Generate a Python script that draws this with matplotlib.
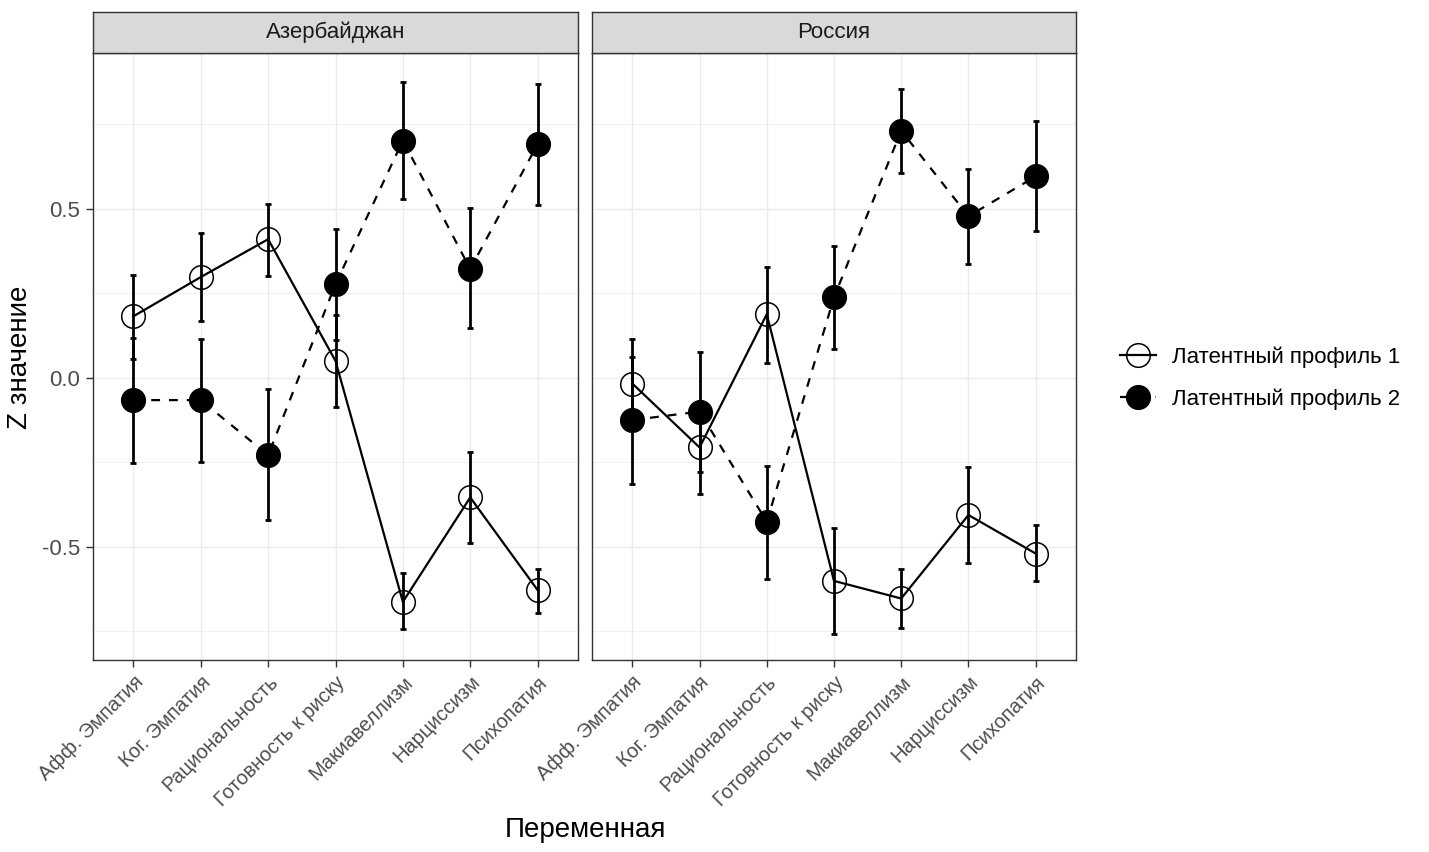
import matplotlib
matplotlib.use("Agg")
import matplotlib.pyplot as plt
from matplotlib.lines import Line2D
import numpy as np

plt.rcParams["font.family"] = ["Liberation Sans", "DejaVu Sans"]
plt.rcParams["axes.unicode_minus"] = False

variables = ["Афф. Эмпатия", "Ког. Эмпатия", "Рациональность", "Готовность к риску",
             "Макиавеллизм", "Нарциссизм", "Психопатия"]
countries = ["Азербайджан", "Россия"]
profile_labels = ["Латентный профиль 1", "Латентный профиль 2"]

# Azerbaijan
az_p1_mean = [0.182, 0.298, 0.410, 0.050, -0.663, -0.354, -0.628]
az_p1_lo = [0.057, 0.167, 0.302, -0.086, -0.744, -0.488, -0.695]
az_p1_hi = [0.303, 0.428, 0.515, 0.185, -0.579, -0.220, -0.566]
az_p2_mean = [-0.066, -0.066, -0.229, 0.277, 0.702, 0.322, 0.691]
az_p2_lo = [-0.251, -0.248, -0.421, 0.112, 0.529, 0.146, 0.511]
az_p2_hi = [0.117, 0.114, -0.033, 0.441, 0.876, 0.502, 0.870]

# Russia
ru_p1_mean = [-0.017, -0.206, 0.188, -0.601, -0.653, -0.406, -0.520]
ru_p1_lo = [-0.150, -0.344, 0.045, -0.758, -0.740, -0.549, -0.601]
ru_p1_hi = [0.116, -0.068, 0.328, -0.444, -0.566, -0.263, -0.436]
ru_p2_mean = [-0.125, -0.100, -0.426, 0.238, 0.731, 0.478, 0.596]
ru_p2_lo = [-0.315, -0.278, -0.594, 0.086, 0.606, 0.337, 0.433]
ru_p2_hi = [0.062, 0.077, -0.260, 0.389, 0.855, 0.618, 0.759]

panels = [
    [(az_p1_mean, az_p1_lo, az_p1_hi), (az_p2_mean, az_p2_lo, az_p2_hi)],
    [(ru_p1_mean, ru_p1_lo, ru_p1_hi), (ru_p2_mean, ru_p2_lo, ru_p2_hi)],
]

W, H = 1429, 852
fig = plt.figure(figsize=(W / 100, H / 100), dpi=100)


def frac_box(x0, y0, x1, y1):
    return [x0 / W, 1 - y1 / H, (x1 - x0) / W, (y1 - y0) / H]


panel_px = [(93, 53, 578, 660), (592, 53, 1076, 660)]
styles = [dict(ls="-", mfc="none"), dict(ls=(0, (4, 4)), mfc="black")]
x = np.arange(1, len(variables) + 1)
dark = "#333333"

for i, (country, data) in enumerate(zip(countries, panels)):
    x0, y0, x1, y1 = panel_px[i]
    ax = fig.add_axes(frac_box(x0, y0, x1, y1))
    ax.set_xlim(0.4, len(variables) + 0.6)
    ax.set_ylim(-0.835, 0.961)
    ax.set_yticks([-0.5, 0.0, 0.5])
    ax.set_yticks([-0.75, -0.25, 0.25, 0.75], minor=True)
    ax.set_xticks(x)
    ax.grid(which="major", color="#EBEBEB", lw=1.0, zorder=0)
    ax.grid(which="minor", axis="y", color="#EBEBEB", lw=0.5, zorder=0)
    ax.set_axisbelow(True)
    ax.tick_params(which="major", length=5, width=1.0, color=dark,
                   labelsize=16, labelcolor="#4D4D4D", pad=4)
    ax.tick_params(which="minor", length=0)
    for sp in ax.spines.values():
        sp.set_color(dark)
        sp.set_linewidth(1.0)
        sp.set_zorder(5)
    if i == 0:
        ax.set_yticklabels(["-0.5", "0.0", "0.5"])
    else:
        ax.set_yticklabels([])
        ax.tick_params(axis="y", length=0)
    ax.set_xticklabels(variables, rotation=45, ha="right", va="top",
                       rotation_mode="anchor", fontsize=14.5)

    for (mean, lo, hi), st in zip(data, styles):
        mean = np.array(mean)
        err = [mean - np.array(lo), np.array(hi) - mean]
        ax.plot(x, mean, color="black", lw=1.6, ls=st["ls"], zorder=2)
        ax.errorbar(x, mean, yerr=err, fmt="none", ecolor="black",
                    elinewidth=2.0, capsize=2.4, capthick=2.0, zorder=3)
        ax.plot(x, mean, ls="none", marker="o", ms=17, mfc=st["mfc"],
                mec="black", mew=1.1, zorder=4)

    # facet strip
    sax = fig.add_axes(frac_box(x0, 12, x1, y0))
    sax.set_xticks([])
    sax.set_yticks([])
    sax.set_facecolor("#D9D9D9")
    for sp in sax.spines.values():
        sp.set_color(dark)
        sp.set_linewidth(1.0)
    sax.text(0.5, 0.5, country, ha="center", va="center", fontsize=16,
             color="#1A1A1A", transform=sax.transAxes)

fig.text(20 / W, 1 - 357 / H, "Z значение", rotation=90, ha="center",
         va="center", fontsize=20)
fig.text(585 / W, 1 - 830 / H, "Переменная", ha="center", va="center",
         fontsize=20)

handles = [
    Line2D([], [], color="black", lw=1.6, ls=st["ls"], marker="o", ms=17,
           mfc=st["mfc"], mec="black", mew=1.1)
    for st in styles
]
fig.legend(handles, profile_labels, loc="center left",
           bbox_to_anchor=(1120 / W, 1 - 378 / H), frameon=False,
           fontsize=16, handlelength=1.6, handletextpad=0.75,
           labelspacing=0.9, borderpad=0, borderaxespad=0)

fig.savefig("out.png", dpi=100)
